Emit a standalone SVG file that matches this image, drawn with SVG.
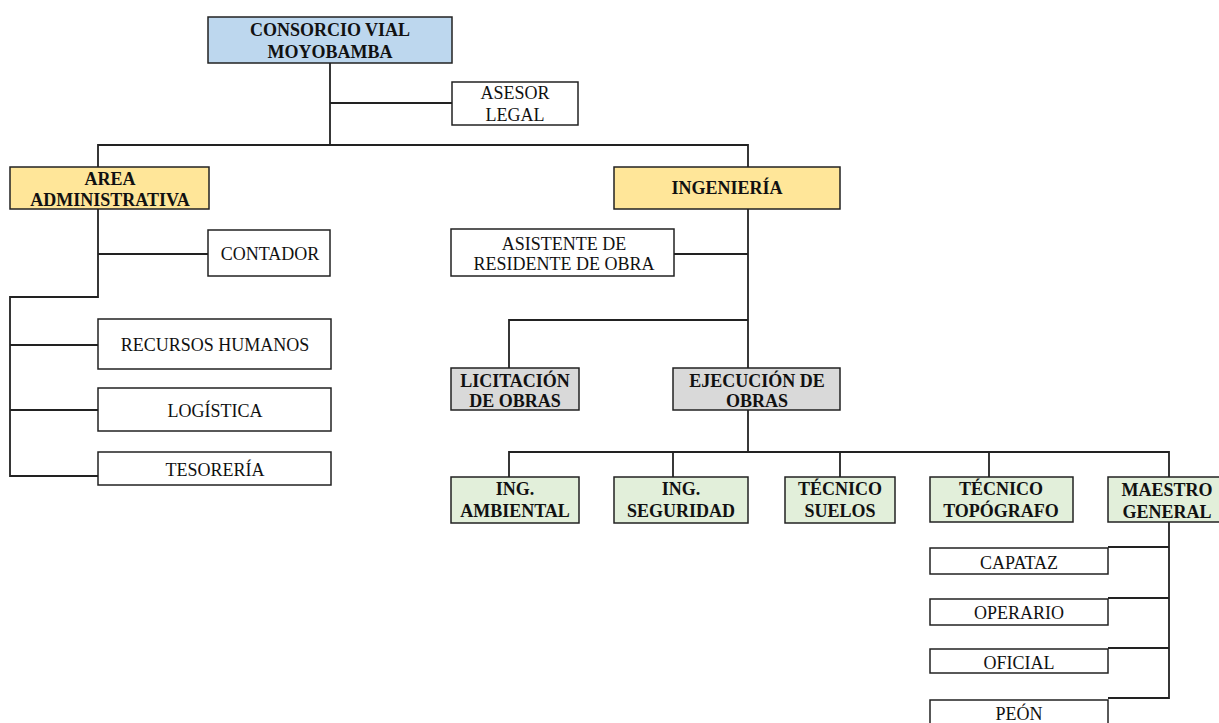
<svg xmlns="http://www.w3.org/2000/svg" width="1219" height="723" viewBox="0 0 1219 723">
<style>
.box{stroke:#222;stroke-width:1.5}
.w{fill:#fff}.b{fill:#BDD7EE}.y{fill:#FFE699}.g{fill:#D9D9D9}.gr{fill:#E2EFDA}
text{font-family:"Liberation Serif","Times New Roman",serif;font-size:18px;fill:#111;text-anchor:middle}
.bd{font-weight:bold}
.conn{fill:none;stroke:#222;stroke-width:1.8}
</style>
<rect width="1219" height="723" fill="#fff"/>
<g id="connectors" class="conn">
<path d="M330,63 V145"/>
<path d="M330,103 H452"/>
<path d="M98,168 V145 H748 V168"/>
<path d="M98,209 V297 H10 V476 H98"/>
<path d="M98,254 H208"/>
<path d="M10,345 H98"/>
<path d="M10,410 H98"/>
<path d="M748,209 V368"/>
<path d="M674,254 H748"/>
<path d="M509,368 V320 H748"/>
<path d="M748,410 V452"/>
<path d="M509,477 V452 H1169 V477"/>
<path d="M673,452 V477"/>
<path d="M840,452 V477"/>
<path d="M989,452 V477"/>
<path d="M1169,522 V698 H1108"/>
<path d="M1108,547 H1169"/>
<path d="M1108,598 H1169"/>
<path d="M1108,648 H1169"/>
</g>
<g id="consorcio"><rect class="box b" x="208" y="17" width="244" height="46"/><text class="bd" x="330" y="36" font-size="19">CONSORCIO VIAL</text><text class="bd" x="330" y="58" font-size="19">MOYOBAMBA</text></g>
<g id="asesor"><rect class="box w" x="452" y="82" width="126" height="43"/><text x="515" y="99">ASESOR</text><text x="515" y="121">LEGAL</text></g>
<g id="area"><rect class="box y" x="10" y="167" width="199" height="42"/><text class="bd" x="110" y="185">AREA</text><text class="bd" x="110" y="206">ADMINISTRATIVA</text></g>
<g id="ingenieria"><rect class="box y" x="614" y="167" width="226" height="42"/><text class="bd" x="727" y="194">INGENIERÍA</text></g>
<g id="contador"><rect class="box w" x="208" y="230" width="122" height="46"/><text x="270" y="260">CONTADOR</text></g>
<g id="asistente"><rect class="box w" x="451" y="229" width="223" height="47"/><text x="564" y="250">ASISTENTE DE</text><text x="564" y="270">RESIDENTE DE OBRA</text></g>
<g id="rrhh"><rect class="box w" x="98" y="319" width="233" height="50"/><text x="215" y="351">RECURSOS HUMANOS</text></g>
<g id="logistica"><rect class="box w" x="98" y="388" width="233" height="43"/><text x="215" y="417">LOGÍSTICA</text></g>
<g id="tesoreria"><rect class="box w" x="98" y="452" width="233" height="33"/><text x="215" y="476">TESORERÍA</text></g>
<g id="licitacion"><rect class="box g" x="451" y="368" width="128" height="42"/><text class="bd" x="515" y="387">LICITACIÓN</text><text class="bd" x="515" y="407">DE OBRAS</text></g>
<g id="ejecucion"><rect class="box g" x="673" y="368" width="167" height="42"/><text class="bd" x="757" y="387">EJECUCIÓN DE</text><text class="bd" x="757" y="407">OBRAS</text></g>
<g id="ambiental"><rect class="box gr" x="451" y="477" width="128" height="46"/><text class="bd" x="515" y="495">ING.</text><text class="bd" x="515" y="517">AMBIENTAL</text></g>
<g id="seguridad"><rect class="box gr" x="614" y="477" width="134" height="46"/><text class="bd" x="681" y="495">ING.</text><text class="bd" x="681" y="517">SEGURIDAD</text></g>
<g id="suelos"><rect class="box gr" x="785" y="477" width="110" height="46"/><text class="bd" x="840" y="495">TÉCNICO</text><text class="bd" x="840" y="517">SUELOS</text></g>
<g id="topografo"><rect class="box gr" x="930" y="477" width="143" height="45"/><text class="bd" x="1001" y="495">TÉCNICO</text><text class="bd" x="1001" y="517">TOPÓGRAFO</text></g>
<g id="maestro"><rect class="box gr" x="1108" y="477" width="122" height="45"/><text class="bd" x="1167" y="496" font-size="21">MAESTRO</text><text class="bd" x="1167" y="518" font-size="21">GENERAL</text></g>
<g id="capataz"><rect class="box w" x="930" y="548" width="178" height="26"/><text x="1019" y="569">CAPATAZ</text></g>
<g id="operario"><rect class="box w" x="930" y="599" width="178" height="26"/><text x="1019" y="619">OPERARIO</text></g>
<g id="oficial"><rect class="box w" x="930" y="649" width="178" height="24"/><text x="1019" y="669">OFICIAL</text></g>
<g id="peon"><rect class="box w" x="930" y="700" width="178" height="30"/><text x="1019" y="720">PEÓN</text></g>
</svg>
